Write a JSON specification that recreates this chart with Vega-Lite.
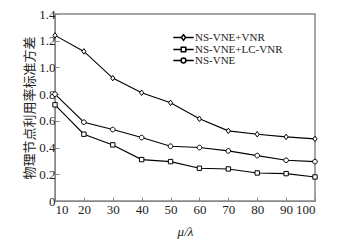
{
  "$schema": "https://vega.github.io/schema/vega-lite/v6.json",
  "width": 260,
  "height": 187,
  "autosize": {"type": "none"},
  "padding": {"left": 55, "top": 14, "right": 29, "bottom": 40},
  "background": "white",
  "config": {
    "view": {"stroke": "#888", "strokeWidth": 1.5},
    "font": "Liberation Serif",
    "axis": {
      "grid": false,
      "domainColor": "#888",
      "tickColor": "#888",
      "tickSize": -4,
      "labelFont": "Liberation Serif",
      "labelFontSize": 13,
      "labelColor": "#222",
      "titleColor": "#222"
    }
  },
  "data": {
    "values": [
      {"x": 10, "series": "NS-VNE+VNR", "y": 1.24},
      {"x": 20, "series": "NS-VNE+VNR", "y": 1.12},
      {"x": 30, "series": "NS-VNE+VNR", "y": 0.92},
      {"x": 40, "series": "NS-VNE+VNR", "y": 0.81},
      {"x": 50, "series": "NS-VNE+VNR", "y": 0.735},
      {"x": 60, "series": "NS-VNE+VNR", "y": 0.615},
      {"x": 70, "series": "NS-VNE+VNR", "y": 0.525},
      {"x": 80, "series": "NS-VNE+VNR", "y": 0.5},
      {"x": 90, "series": "NS-VNE+VNR", "y": 0.48},
      {"x": 100, "series": "NS-VNE+VNR", "y": 0.465},
      {"x": 10, "series": "NS-VNE+LC-VNR", "y": 0.72},
      {"x": 20, "series": "NS-VNE+LC-VNR", "y": 0.5},
      {"x": 30, "series": "NS-VNE+LC-VNR", "y": 0.42},
      {"x": 40, "series": "NS-VNE+LC-VNR", "y": 0.31},
      {"x": 50, "series": "NS-VNE+LC-VNR", "y": 0.295},
      {"x": 60, "series": "NS-VNE+LC-VNR", "y": 0.245},
      {"x": 70, "series": "NS-VNE+LC-VNR", "y": 0.24},
      {"x": 80, "series": "NS-VNE+LC-VNR", "y": 0.21},
      {"x": 90, "series": "NS-VNE+LC-VNR", "y": 0.205},
      {"x": 100, "series": "NS-VNE+LC-VNR", "y": 0.18},
      {"x": 10, "series": "NS-VNE", "y": 0.8},
      {"x": 20, "series": "NS-VNE", "y": 0.59},
      {"x": 30, "series": "NS-VNE", "y": 0.535},
      {"x": 40, "series": "NS-VNE", "y": 0.475},
      {"x": 50, "series": "NS-VNE", "y": 0.41},
      {"x": 60, "series": "NS-VNE", "y": 0.4},
      {"x": 70, "series": "NS-VNE", "y": 0.375},
      {"x": 80, "series": "NS-VNE", "y": 0.34},
      {"x": 90, "series": "NS-VNE", "y": 0.305},
      {"x": 100, "series": "NS-VNE", "y": 0.295}
    ]
  },
  "encoding": {
    "x": {
      "field": "x", "type": "quantitative",
      "scale": {"domain": [10, 100], "nice": false},
      "axis": {"values": [10, 20, 30, 40, 50, 60, 70, 80, 90, 100], "labelPadding": 6, "title": "μ/λ", "titleFont": "Liberation Serif", "titleFontStyle": "italic", "titleFontWeight": "normal", "titleFontSize": 13, "titlePadding": 9}
    },
    "y": {
      "field": "y", "type": "quantitative",
      "scale": {"domain": [0, 1.4], "nice": false},
      "axis": {"values": [0, 0.2, 0.4, 0.6, 0.8, 1.0, 1.2, 1.4], "labelExpr": "datum.value == 0 ? '0' : format(datum.value, '.1f')", "labelPadding": 4, "title": "物理节点利用率标准方差", "titleFont": "Noto Sans CJK SC", "titleFontWeight": "normal", "titleFontSize": 13, "titlePadding": 2}
    }
  },
  "layer": [
    {
      "mark": {"type": "line", "color": "black", "strokeWidth": 1.1},
      "encoding": {"detail": {"field": "series"}}
    },
    {
      "mark": {"type": "point", "filled": false, "fill": "white", "fillOpacity": 1, "stroke": "black", "strokeWidth": 1, "opacity": 1, "size": 30},
      "encoding": {
        "shape": {
          "field": "series", "type": "nominal", "legend": null,
          "scale": {
            "domain": ["NS-VNE+VNR", "NS-VNE+LC-VNR", "NS-VNE"],
            "range": [
              "M0,-1L0.75,0L0,1L-0.75,0Z",
              "M-0.8,-0.8H0.8V0.8H-0.8Z",
              "M0.85,0A0.85,0.85,0,1,1,-0.85,0A0.85,0.85,0,1,1,0.85,0Z"
            ]
          }
        }
      }
    },
    {
      "mark": {"type": "point", "filled": false, "fill": "white", "stroke": "black", "strokeWidth": 1, "size": 36},
      "encoding": {
        "opacity": {"value": 0},
        "shape": {
          "field": "series", "type": "nominal",
          "scale": {
            "domain": ["NS-VNE+VNR", "NS-VNE+LC-VNR", "NS-VNE"],
            "range": [
              "M-3.4,0H-0.7M0.7,0H3.4M0,-0.95L0.7,0L0,0.95L-0.7,0Z",
              "M-3.4,0H-0.75M0.75,0H3.4M-0.75,-0.75H0.75V0.75H-0.75Z",
              "M-3.4,0H-0.8M0.8,0H3.4M0.8,0A0.8,0.8,0,1,1,-0.8,0A0.8,0.8,0,1,1,0.8,0Z"
            ]
          },
          "legend": {
            "title": null,
            "orient": "none",
            "legendX": 123,
            "legendY": 18,
            "padding": 0,
            "labelFont": "Liberation Serif",
            "labelFontSize": 11,
            "labelColor": "#222",
            "labelOffset": 6,
            "rowPadding": -1,
            "symbolSize": 36,
            "encode": {
              "symbols": {
                "update": {
                  "stroke": {"value": "black"},
                  "fill": {"value": "white"},
                  "opacity": {"value": 1},
                  "strokeOpacity": {"value": 1},
                  "fillOpacity": {"value": 1},
                  "strokeWidth": {"value": 1}
                }
              }
            }
          }
        }
      }
    }
  ],
  "resolve": {"scale": {"shape": "independent"}, "legend": {"shape": "independent"}}
}
